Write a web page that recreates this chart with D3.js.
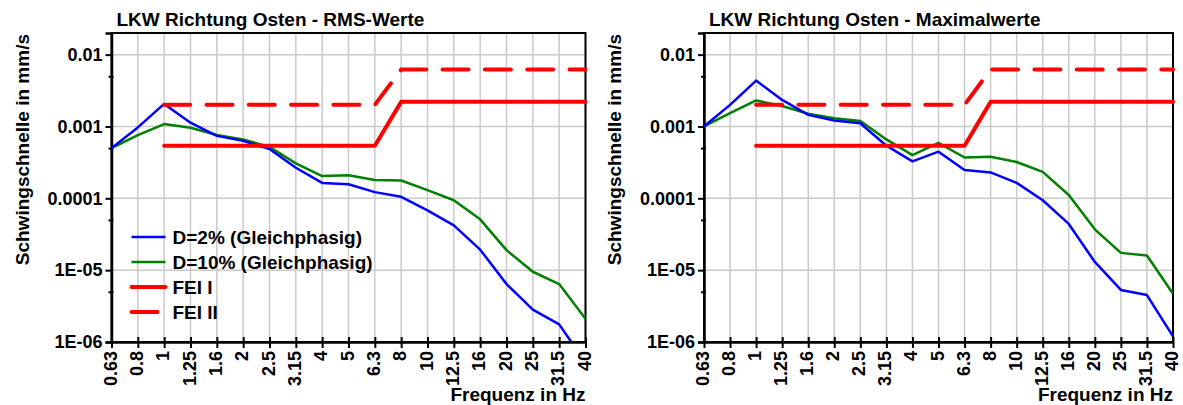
<!DOCTYPE html>
<head>
<title>LKW Richtung Osten</title>
<style>
  body { margin: 0; background: #fff; }
  text { font-family: "Liberation Sans", Arial, sans-serif; font-weight: bold; fill: #000; }
</style>
</head>
<body>
<svg width="1183" height="405" id="svg1"></svg>
<script src="https://d3js.org/d3.v7.min.js"></script>
<script>

// Terzband-Mittenfrequenzen (Hz)
var freqs = ["0.63","0.8","1","1.25","1.6","2","2.5","3.15","4","5","6.3","8","10","12.5","16","20","25","31.5","40"];

// RMS-Werte in mm/s
var rmsD2  = [0.0005, 0.00097, 0.00206, 0.00113, 0.00074, 0.00063, 0.000486, 0.000266, 0.000164, 0.000157, 0.000122, 0.000105, 0.000068, 0.000042, 0.0000193, 0.0000064, 0.00000283, 0.00000176, 0.00000052];
var rmsD10 = [0.0005, 0.00076, 0.00108, 0.00096, 0.00076, 0.00066, 0.00052, 0.000307, 0.000204, 0.00021, 0.00018, 0.000177, 0.00013, 0.000094, 0.000051, 0.000019, 0.0000095, 0.0000064, 0.0000021];

// Maximalwerte in mm/s
var maxD2  = [0.001, 0.002, 0.00435, 0.00234, 0.00145, 0.00121, 0.00111, 0.00054, 0.000327, 0.000446, 0.000247, 0.000229, 0.000164, 0.000094, 0.000044, 0.000013, 0.0000053, 0.0000045, 0.0000012];
var maxD10 = [0.001, 0.00153, 0.0023, 0.00193, 0.0015, 0.0013, 0.00119, 0.00066, 0.0004, 0.00059, 0.00037, 0.00038, 0.00032, 0.000233, 0.000111, 0.000037, 0.0000174, 0.000016, 0.0000047];

// Grenzkurven
var feiI  = [null, null, 0.00054, 0.00054, 0.00054, 0.00054, 0.00054, 0.00054, 0.00054, 0.00054, 0.00054, 0.0022, 0.0022, 0.0022, 0.0022, 0.0022, 0.0022, 0.0022, 0.0022];
var feiII = [null, null, 0.002, 0.002, 0.002, 0.002, 0.002, 0.002, 0.002, 0.002, 0.002, 0.0062, 0.0062, 0.0062, 0.0062, 0.0062, 0.0062, 0.0062, 0.0062];

var yTicks = [0.01, 0.001, 0.0001, 0.00001, 0.000001];
var yTickLabels = ["0.01", "0.001", "0.0001", "1E-05", "1E-06"];
var yMinor = [0.005, 0.0005, 0.00005, 0.000005];

var legendNames = ["D=2% (Gleichphasig)", "D=10% (Gleichphasig)", "FEI I", "FEI II"];

var svg = d3.select("#svg1");
var top_ = 33, bottom = 342;

function drawChart(id, left, right, title, s1, s2, showLegend) {
  var g = svg.append("g");

  var x = d3.scalePoint().domain(freqs).range([left, right]);
  var y = d3.scaleLog().domain([0.000001, 0.02]).range([bottom, top_]);

  g.append("clipPath").attr("id", "clip" + id)
    .append("rect").attr("x", left).attr("y", top_)
    .attr("width", right - left).attr("height", bottom - top_);

  // gitter
  g.append("g").selectAll("line").data(freqs).enter().append("line")
    .attr("x1", function(d) { return x(d); }).attr("x2", function(d) { return x(d); })
    .attr("y1", top_).attr("y2", bottom)
    .attr("stroke", "#cacaca").attr("stroke-width", 1.5);
  g.append("g").selectAll("line").data(yTicks).enter().append("line")
    .attr("x1", left).attr("x2", right)
    .attr("y1", function(d) { return y(d); }).attr("y2", function(d) { return y(d); })
    .attr("stroke", "#cacaca").attr("stroke-width", 1.5);

  // rahmen
  g.append("rect").attr("x", left).attr("y", top_)
    .attr("width", right - left).attr("height", bottom - top_)
    .attr("fill", "none").attr("stroke", "#000").attr("stroke-width", 2);

  // y achse
  var yAxis = g.append("g").attr("transform", "translate(" + left + ",0)")
    .call(d3.axisLeft(y).tickValues(yTicks).tickSize(6).tickPadding(3)
      .tickFormat(function(d, i) { return yTickLabels[i]; }));
  yAxis.selectAll("text").style("font-size", "18px");
  yAxis.select(".domain").attr("stroke-width", 2.5);
  yAxis.selectAll(".tick line").attr("stroke-width", 2);

  var yMinorAxis = g.append("g").attr("transform", "translate(" + left + ",0)")
    .call(d3.axisLeft(y).tickValues(yMinor).tickSize(3).tickFormat(""));
  yMinorAxis.select(".domain").remove();
  yMinorAxis.selectAll(".tick line").attr("x2", -3).attr("x1", 2).attr("stroke-width", 2);

  // x achse
  var xAxis = g.append("g").attr("transform", "translate(0," + bottom + ")")
    .call(d3.axisBottom(x).tickSize(5).tickSizeOuter(0).tickPadding(3));
  xAxis.select(".domain").attr("stroke-width", 2.5);
  xAxis.selectAll(".tick line").attr("y1", -5).attr("y2", 6).attr("stroke-width", 2);
  xAxis.selectAll("text")
    .style("font-size", "18px")
    .attr("text-anchor", "end")
    .attr("transform", "rotate(-90)")
    .attr("x", -9).attr("y", 0).attr("dy", "0.25em");

  // linien
  var line = d3.line()
    .defined(function(d) { return d != null; })
    .x(function(d, i) { return x(freqs[i]); })
    .y(function(d) { return y(d); });

  var plot = g.append("g").attr("clip-path", "url(#clip" + id + ")");
  plot.append("path").attr("d", line(s2)).attr("fill", "none")
    .attr("stroke", "#008000").attr("stroke-width", 2.5).attr("stroke-linejoin", "round");
  plot.append("path").attr("d", line(s1)).attr("fill", "none")
    .attr("stroke", "#0000ff").attr("stroke-width", 2.5).attr("stroke-linejoin", "round");
  g.append("path").attr("d", line(feiI)).attr("fill", "none")
    .attr("stroke", "#ff0000").attr("stroke-width", 4).attr("stroke-linecap", "round").attr("stroke-linejoin", "round");
  g.append("path").attr("d", line(feiII)).attr("fill", "none")
    .attr("stroke", "#ff0000").attr("stroke-width", 4).attr("stroke-linecap", "round")
    .attr("stroke-dasharray", "26,16.3");

  // titel
  g.append("text").attr("x", left + 5).attr("y", 26)
    .style("font-size", "19px").text(title);
  g.append("text")
    .attr("transform", "translate(" + (left - 83) + "," + 34 + ") rotate(-90)")
    .attr("text-anchor", "end")
    .style("font-size", "19px").text("Schwingschnelle in mm/s");
  g.append("text").attr("x", right).attr("y", 401)
    .attr("text-anchor", "end")
    .style("font-size", "19px").text("Frequenz in Hz");

  if (showLegend) {
    var colors = ["#0000ff", "#008000", "#ff0000", "#ff0000"];
    var widths = [2.5, 2.5, 4, 4];
    var legend = g.selectAll(".legend").data(legendNames).enter()
      .append("g").attr("class", "legend")
      .attr("transform", function(d, i) { return "translate(" + (left + 20) + "," + (237 + 25 * i) + ")"; });
    legend.append("line").attr("x1", 0).attr("x2", 34)
      .attr("stroke", function(d, i) { return colors[i]; })
      .attr("stroke-width", function(d, i) { return widths[i]; })
      .attr("stroke-linecap", function(d, i) { return i > 1 ? "round" : "butt"; })
      .attr("stroke-dasharray", function(d, i) { return i == 3 ? "26,16.3" : null; });
    legend.append("text").attr("x", 41).attr("dy", "0.36em")
      .style("font-size", "19px").text(function(d) { return d; });
  }
}

drawChart(1, 111.5, 585.5, "LKW Richtung Osten - RMS-Werte", rmsD2, rmsD10, true);
drawChart(2, 704, 1173, "LKW Richtung Osten - Maximalwerte", maxD2, maxD10, false);

</script>
</body>
